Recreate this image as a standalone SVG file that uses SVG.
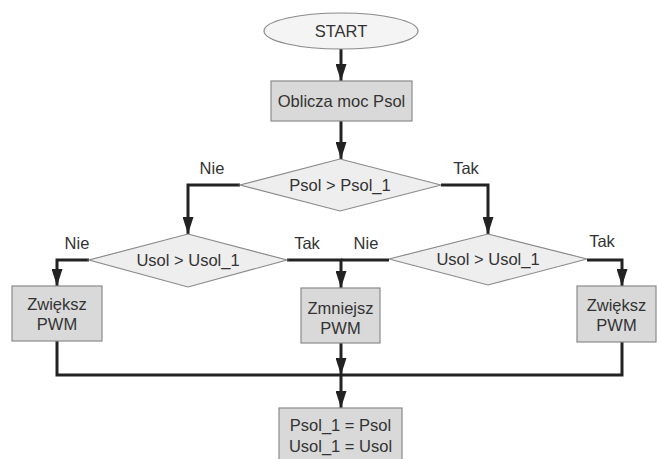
<svg xmlns="http://www.w3.org/2000/svg" width="657" height="459" viewBox="0 0 657 459">
<defs>
<style>
.t{font-family:"Liberation Sans",Arial,sans-serif;font-size:16.5px;fill:#333;text-anchor:middle;dominant-baseline:central}
.box{fill:#d9d9d9;stroke:#8a8a8a;stroke-width:1.2}
.dia{fill:#eeeeee;stroke:#8a8a8a;stroke-width:1.2}
.ell{fill:#f4f4f4;stroke:#8a8a8a;stroke-width:1.2}
.c{fill:none;stroke:#222;stroke-width:3}
</style>
<marker id="ah" markerUnits="userSpaceOnUse" markerWidth="18" markerHeight="11" refX="17" refY="5.5" orient="auto">
<path d="M0,0 L17,5.5 L0,11 z" fill="#222"/>
</marker>
</defs>
<rect width="657" height="459" fill="#fff"/>
<g id="connectors">
<path class="c" d="M341,49 V81" marker-end="url(#ah)"/>
<path class="c" d="M341,121 V159" marker-end="url(#ah)"/>
<path class="c" d="M240,185 H188 V234" marker-end="url(#ah)"/>
<path class="c" d="M441,185 H488 V234" marker-end="url(#ah)"/>
<path class="c" d="M89,260 H57 V286" marker-end="url(#ah)"/>
<path class="c" d="M287,260 H341 V288" marker-end="url(#ah)"/>
<path class="c" d="M389,260 H341"/>
<path class="c" d="M587,260 H622 V286" marker-end="url(#ah)"/>
<path class="c" d="M57,341 V375 H622 V342"/>
<path class="c" d="M341,343 V375" marker-end="url(#ah)"/>
<path class="c" d="M341,375 V408" marker-end="url(#ah)"/>
</g>
<g id="start">
<ellipse class="ell" cx="341" cy="31" rx="77" ry="18"/>
<text class="t" x="341" y="31">START</text>
</g>
<g id="oblicza">
<rect class="box" x="271" y="81" width="141" height="40"/>
<text class="t" x="341.5" y="101">Oblicza moc Psol</text>
</g>
<g id="d1">
<polygon class="dia" points="340,159 441,185 340,211 240,185"/>
<text class="t" x="340" y="185">Psol &gt; Psol_1</text>
<text class="t" x="212" y="168">Nie</text>
<text class="t" x="466" y="168">Tak</text>
</g>
<g id="d2">
<polygon class="dia" points="188,234 287,260 188,287 89,260"/>
<text class="t" x="188" y="260">Usol &gt; Usol_1</text>
<text class="t" x="77" y="243">Nie</text>
<text class="t" x="307" y="243">Tak</text>
</g>
<g id="d3">
<polygon class="dia" points="488,234 587,259 488,285 389,259"/>
<text class="t" x="488" y="259">Usol &gt; Usol_1</text>
<text class="t" x="366" y="243">Nie</text>
<text class="t" x="602" y="241">Tak</text>
</g>
<g id="zwieksz1">
<rect class="box" x="12" y="286" width="90" height="55"/>
<text class="t" x="57" y="304">Zwiększ</text>
<text class="t" x="57" y="324">PWM</text>
</g>
<g id="zmniejsz">
<rect class="box" x="301" y="288" width="79" height="55"/>
<text class="t" x="340.5" y="308">Zmniejsz</text>
<text class="t" x="340.5" y="328">PWM</text>
</g>
<g id="zwieksz2">
<rect class="box" x="577" y="286" width="79" height="56"/>
<text class="t" x="616.5" y="305">Zwiększ</text>
<text class="t" x="616.5" y="325">PWM</text>
</g>
<g id="final">
<rect class="box" x="279" y="408" width="123" height="60"/>
<text class="t" x="340.5" y="425">Psol_1 = Psol</text>
<text class="t" x="340.5" y="446">Usol_1 = Usol</text>
</g>
</svg>
